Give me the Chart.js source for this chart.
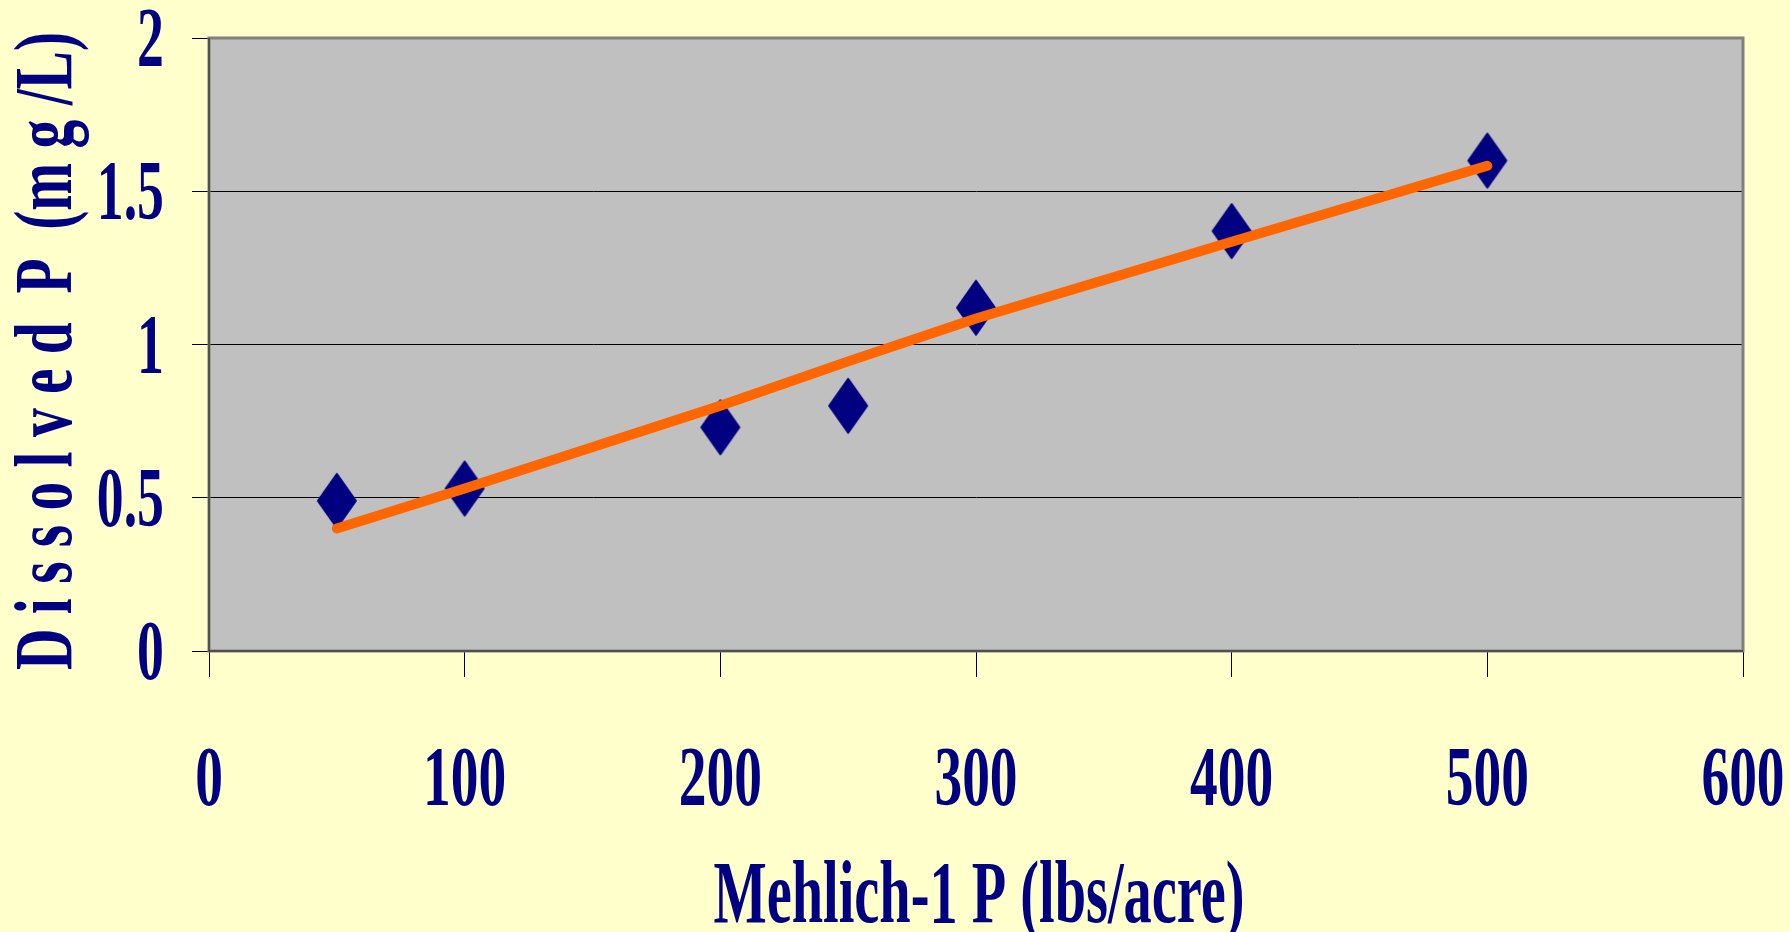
<!DOCTYPE html>
<html>
<head>
<meta charset="utf-8">
<title>Dissolved P vs Mehlich-1 P</title>
<script src="https://cdn.jsdelivr.net/npm/chart.js@4.4.1/dist/chart.umd.min.js"></script>
<style>
  html, body { margin: 0; padding: 0; background: #FFFFCC; }
  #wrap { width: 1790px; height: 932px; position: relative; }
</style>
</head>
<body>
<div id="wrap"><canvas id="chart"></canvas></div>
<script>
// Soil test P (Mehlich-1, lbs/acre) and dissolved P in runoff (mg/L)
const mehlichP   = [50, 100, 200, 250, 300, 400, 500];
const dissolvedP = [0.49, 0.53, 0.73, 0.80, 1.12, 1.37, 1.60];

// Fitted trend through the same soil test levels
const trendX = [50, 100, 200, 250, 300, 400, 500];
const trendP = [0.40, 0.53, 0.80, 0.945, 1.085, 1.335, 1.583];

// Axis labels
const xTickLabels = ['0', '100', '200', '300', '400', '500', '600'];
const yTickLabels = ['0', '0.5', '1', '1.5', '2'];
const xTitle = 'Mehlich-1 P (lbs/acre)';
const yTitle = 'D i s s o l v e d  P  (m g /L)';

const NAVY = '#000080';
const SERIF = '"Liberation Serif", "Times New Roman", serif';

// Tall diamond marker sprite
function diamondSprite(w, h, color) {
  const c = document.createElement('canvas');
  c.width = w + 4; c.height = h + 4;
  const g = c.getContext('2d');
  g.fillStyle = color; g.strokeStyle = color;
  g.lineWidth = 2; g.lineJoin = 'round';
  g.beginPath();
  g.moveTo(c.width / 2, 2);
  g.lineTo(c.width - 2, c.height / 2);
  g.lineTo(c.width / 2, c.height - 2);
  g.lineTo(2, c.height / 2);
  g.closePath();
  g.fill(); g.stroke();
  return c;
}
const diamond = diamondSprite(38, 54, NAVY);

// Draws text squeezed horizontally (narrow, tall glyphs)
function squeezedText(ctx, text, x, y, size, sx, align) {
  ctx.save();
  ctx.font = 'bold ' + size + 'px ' + SERIF;
  ctx.fillStyle = NAVY;
  ctx.textBaseline = 'alphabetic';
  const w = ctx.measureText(text).width * sx;
  let left = x;
  if (align === 'center') left = x - w / 2;
  else if (align === 'right') left = x - w;
  ctx.translate(left, y);
  ctx.scale(sx, 1);
  ctx.textAlign = 'left';
  ctx.fillText(text, 0, 0);
  ctx.restore();
}

const framePlugin = {
  id: 'frame',
  beforeDraw(chart) {
    const { ctx, chartArea: a } = chart;
    ctx.save();
    ctx.fillStyle = '#FFFFCC';
    ctx.fillRect(0, 0, chart.width, chart.height);
    ctx.fillStyle = '#C0C0C0';
    ctx.fillRect(a.left, a.top, a.right - a.left, a.bottom - a.top);
    ctx.restore();
  },
  beforeDatasetsDraw(chart) {
    const { ctx, chartArea: a } = chart;
    ctx.save();
    ctx.strokeStyle = '#808080';
    ctx.lineWidth = 3;
    ctx.strokeRect(a.left, a.top, a.right - a.left, a.bottom - a.top);
    ctx.strokeStyle = '#404040';
    ctx.lineWidth = 1.5;
    ctx.beginPath();
    ctx.moveTo(a.left, a.top);
    ctx.lineTo(a.left, a.bottom);
    ctx.lineTo(a.right, a.bottom);
    ctx.stroke();
    ctx.restore();
  },
  afterDraw(chart) {
    const { ctx, chartArea: a } = chart;
    const xs = chart.scales.x, ys = chart.scales.y;
    // y tick labels
    ys.ticks.forEach((t, i) => {
      const y = ys.getPixelForValue(t.value);
      squeezedText(ctx, yTickLabels[i], 164, y + 28, 84, 0.64, 'right');
    });
    // x tick labels
    xs.ticks.forEach((t, i) => {
      const x = xs.getPixelForValue(t.value);
      squeezedText(ctx, xTickLabels[i], x, 805, 84, 0.66, 'center');
    });
    // x axis title
    ctx.save();
    ctx.font = 'bold 88px ' + SERIF;
    const xw = ctx.measureText(xTitle).width;
    ctx.restore();
    squeezedText(ctx, xTitle, (a.left + a.right) / 2 + 3, 922, 88, 531 / xw, 'center');
    // y axis title (rotated)
    ctx.save();
    ctx.font = 'bold 82px ' + SERIF;
    const yw = ctx.measureText(yTitle).width;
    ctx.translate(71, 670);
    ctx.rotate(-Math.PI / 2);
    ctx.scale(638 / yw, 1);
    ctx.fillStyle = NAVY;
    ctx.textAlign = 'left';
    ctx.textBaseline = 'alphabetic';
    ctx.fillText(yTitle, 0, 0);
    ctx.restore();
  }
};

new Chart(document.getElementById('chart'), {
  type: 'scatter',
  data: {
    datasets: [
      {
        label: 'Trend',
        data: trendX.map((x, i) => ({ x, y: trendP[i] })),
        showLine: true,
        borderColor: '#FF6600',
        borderWidth: 10,
        borderCapStyle: 'round',
        borderJoinStyle: 'round',
        pointRadius: 0,
        pointHoverRadius: 0,
        tension: 0,
        order: 0
      },
      {
        label: 'Dissolved P',
        data: mehlichP.map((x, i) => ({ x, y: dissolvedP[i] })),
        pointStyle: diamond,
        pointRadius: 27,
        backgroundColor: NAVY,
        borderColor: NAVY,
        showLine: false,
        order: 1
      }
    ]
  },
  options: {
    responsive: true,
    maintainAspectRatio: false,
    animation: false,
    events: [],
    layout: { autoPadding: false, padding: { left: 192, right: 47, top: 38, bottom: 255 } },
    plugins: { legend: { display: false }, tooltip: { enabled: false }, title: { display: false } },
    scales: {
      x: {
        type: 'linear',
        min: 0, max: 600,
        ticks: { stepSize: 100, display: false },
        grid: { drawOnChartArea: false, drawTicks: true, tickLength: 26, color: '#000', lineWidth: 1 },
        border: { display: true, color: '#000', width: 1 }
      },
      y: {
        type: 'linear',
        min: 0, max: 2,
        ticks: { stepSize: 0.5, display: false },
        grid: { drawOnChartArea: true, drawTicks: true, tickLength: 17, color: '#000', lineWidth: 1 },
        border: { display: true, color: '#000', width: 1 }
      }
    }
  },
  plugins: [framePlugin]
});
</script>
</body>
</html>
